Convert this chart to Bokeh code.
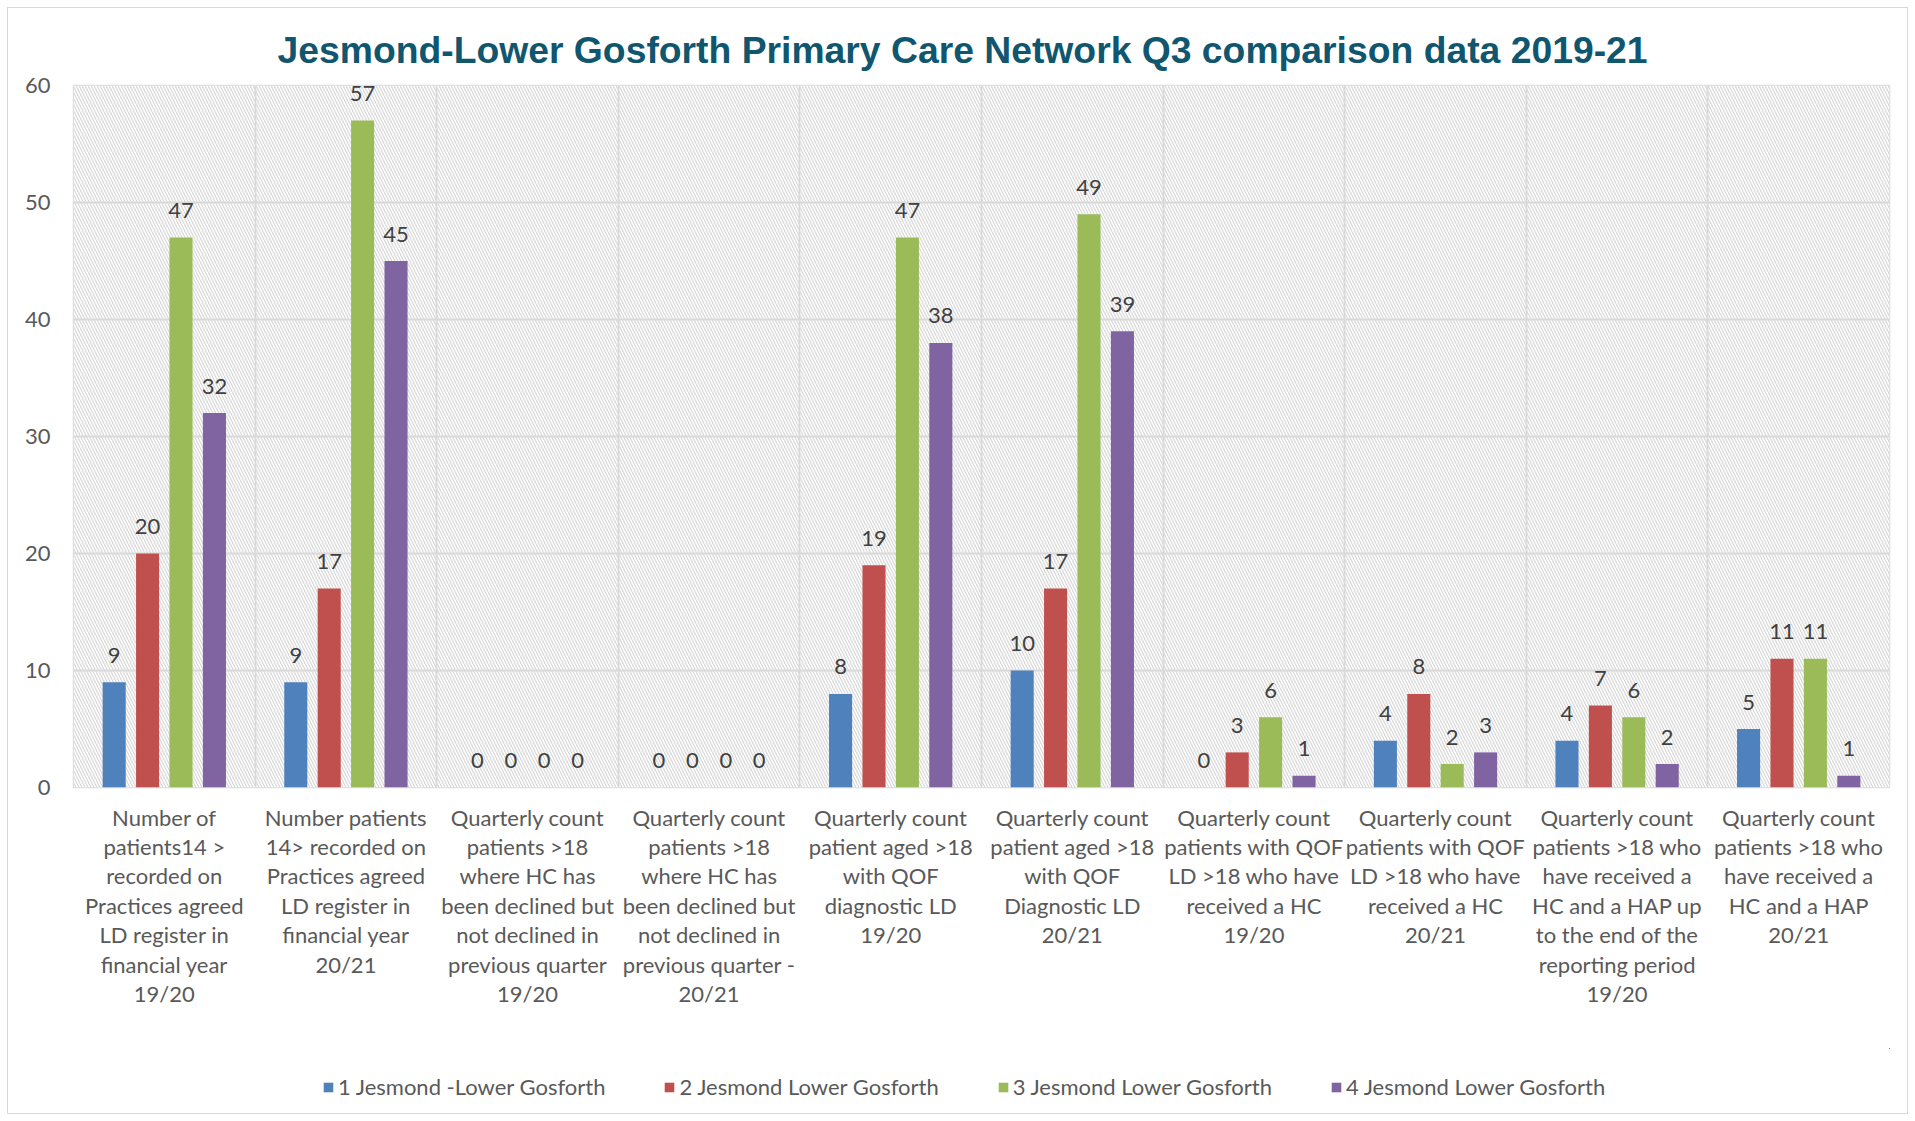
from bokeh.plotting import figure
from bokeh.models import Range1d, FixedTicker, BoxAnnotation, Legend, LegendItem, ColumnDataSource
from bokeh.layouts import column
from bokeh.transform import dodge
from bokeh.core.properties import value
from bokeh.embed import file_html
from bokeh.resources import INLINE

title = "Jesmond-Lower Gosforth Primary Care Network Q3 comparison data 2019-21"

categories = [
    "Number of\npatients14 >\nrecorded on\nPractices agreed\nLD register in\nfinancial year\n19/20",
    "Number patients\n14> recorded on\nPractices agreed\nLD register in\nfinancial year\n20/21",
    "Quarterly count\npatients >18\nwhere HC has\nbeen declined but\nnot declined in\nprevious quarter\n19/20",
    "Quarterly count\npatients >18\nwhere HC has\nbeen declined but\nnot declined in\nprevious quarter -\n20/21",
    "Quarterly count\npatient aged >18\nwith QOF\ndiagnostic LD\n19/20",
    "Quarterly count\npatient aged >18\nwith QOF\nDiagnostic LD\n20/21",
    "Quarterly count\npatients with QOF\nLD >18 who have\nreceived a HC\n19/20",
    "Quarterly count\npatients with QOF\nLD >18 who have\nreceived a HC\n20/21",
    "Quarterly count\npatients >18 who\nhave received a\nHC and a HAP up\nto the end of the\nreporting period\n19/20",
    "Quarterly count\npatients >18 who\nhave received a\nHC and a HAP\n20/21",
]

series_names = [
    "1 Jesmond -Lower Gosforth",
    "2 Jesmond Lower Gosforth",
    "3 Jesmond Lower Gosforth",
    "4 Jesmond Lower Gosforth",
]
s1 = [9, 9, 0, 0, 8, 10, 0, 4, 4, 5]
s2 = [20, 17, 0, 0, 19, 17, 3, 8, 7, 11]
s3 = [47, 57, 0, 0, 47, 49, 6, 2, 6, 11]
s4 = [32, 45, 0, 0, 38, 39, 1, 3, 2, 1]
y_ticks = [0, 10, 20, 30, 40, 50, 60]

colors = ["#4F81BD", "#C0504D", "#9BBB59", "#8064A2"]
offsets = [-0.276, -0.092, 0.092, 0.276]
series = [s1, s2, s3, s4]

FONT = "Lato"
TXT = "#404040"
GRID = "#D9D9D9"

n = len(categories)
pos = [i + 0.5 for i in range(n)]
data = dict(x=pos)
for k, s in enumerate(series):
    data[f"s{k}"] = s
    data[f"l{k}"] = [str(v) for v in s]
src = ColumnDataSource(data)

W = 1899
p = figure(width=W, height=1040, x_range=Range1d(0, n), y_range=Range1d(y_ticks[0], y_ticks[-1]),
           output_backend="svg", toolbar_location=None,
           min_border_left=65, min_border_right=18, min_border_top=77, min_border_bottom=261)

p.title.text = title
p.title.align = "left"
p.title.text_font = "Liberation Sans"
p.title.text_font_style = "bold"
p.title.text_font_size = "37.3px"
p.title.text_color = "#11566F"
p.title.standoff = 30
p.title.offset = 204

p.outline_line_color = GRID
p.outline_line_width = 1.5
p.background_fill_color = "white"

bg = BoxAnnotation(fill_color="white", fill_alpha=1, line_color=None,
                   hatch_pattern="left_diagonal_line", hatch_color="#D6D6D6",
                   hatch_scale=6, hatch_weight=1.2, level="image")
p.add_layout(bg)

p.xgrid.ticker = FixedTicker(ticks=list(range(n + 1)))
p.ygrid.ticker = FixedTicker(ticks=y_ticks)
for g in (p.xgrid, p.ygrid):
    g.grid_line_color = GRID
    g.grid_line_width = 1.8

p.xaxis.ticker = FixedTicker(ticks=pos)
p.xaxis.major_label_overrides = {pos[i]: categories[i] for i in range(n)}
p.yaxis.ticker = FixedTicker(ticks=y_ticks)
for ax in (p.xaxis, p.yaxis):
    ax.axis_line_color = None
    ax.major_tick_line_color = None
    ax.minor_tick_line_color = None
    ax.major_label_text_font = FONT
    ax.major_label_text_color = "#595959"
    ax.major_label_text_font_size = "22px"
p.xaxis.major_label_text_line_height = 1.09
p.xaxis.major_label_standoff = 10
p.yaxis.major_label_standoff = 17

for k in range(4):
    p.vbar(x=dodge("x", offsets[k], range=p.x_range), top=f"s{k}", width=0.127,
           source=src, fill_color=colors[k], line_color=None)
    p.text(x=dodge("x", offsets[k], range=p.x_range), y=f"s{k}", text=f"l{k}", source=src,
           text_align="center", text_baseline="alphabetic", y_offset=-27,
           text_font=value(FONT), text_font_size="22px", text_color=TXT)

# legend strip under the chart (its renderers sit outside its visible range)
q = figure(width=W, height=65, x_range=Range1d(-3, -2), y_range=Range1d(-3, -2),
           output_backend="svg", toolbar_location=None, min_border=0)
q.axis.visible = False
q.grid.visible = False
q.outline_line_color = None
items = []
for k in range(4):
    r = q.vbar(x="x", top=f"s{k}", width=0.1, source=src, fill_color=colors[k], line_color=None)
    items.append(LegendItem(label=series_names[k], renderers=[r]))
legend = Legend(items=items, orientation="horizontal", location=(249, 13),
                border_line_color=None, background_fill_alpha=0,
                label_text_font=FONT, label_text_font_size="22px", label_text_color="#595959",
                glyph_width=12, glyph_height=12, spacing=58, padding=0, margin=0,
                label_standoff=4)
q.add_layout(legend, "center")

layout = column(p, q, spacing=0,
                styles={"border": "1px solid #D9D9D9", "margin": "7px"})

open("out.html", "w").write(file_html(layout, INLINE))
